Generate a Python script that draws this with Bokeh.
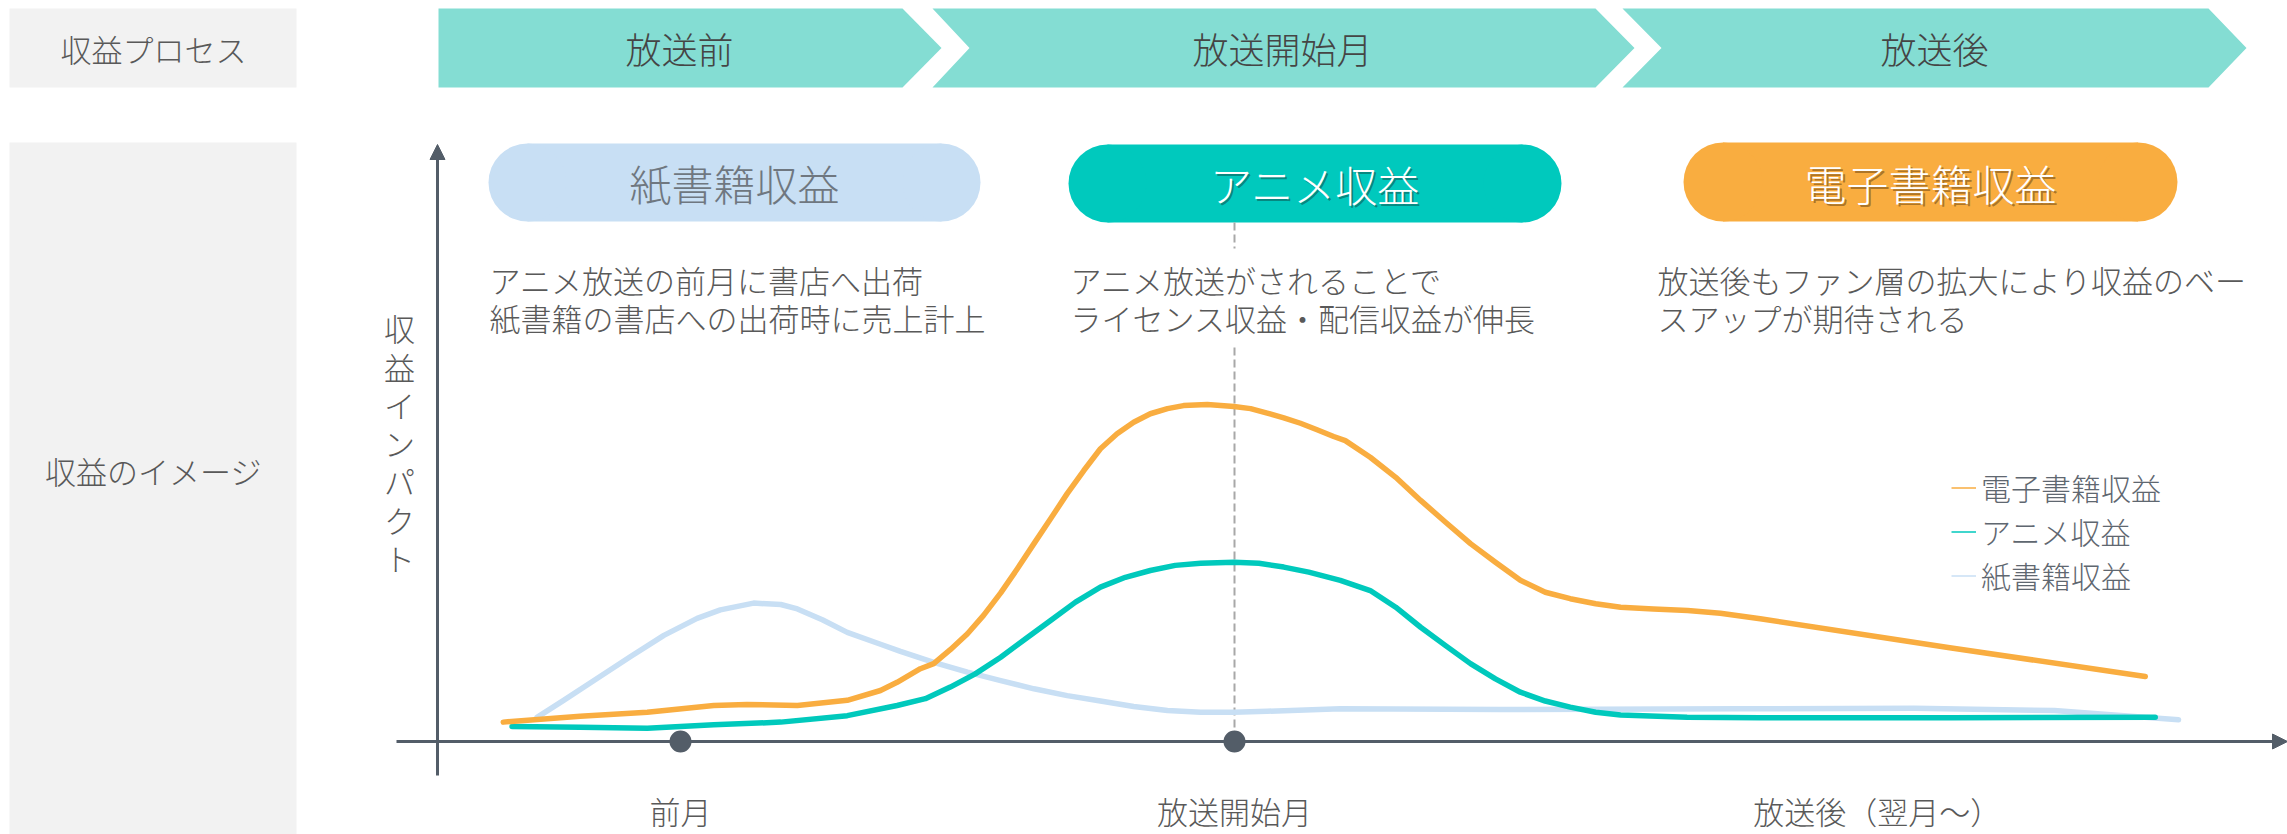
from bokeh.plotting import figure
from bokeh.models import Range1d, Arrow, NormalHead, Legend, LegendItem
from bokeh.core.properties import value
from bokeh.embed import file_html
from bokeh.resources import INLINE

# ---------------- data ----------------
series_names = ["電子書籍収益", "アニメ収益", "紙書籍収益"]

ebook_x = [-0.320, -0.181, -0.060, 0.060, 0.120, 0.211, 0.301, 0.361, 0.391, 0.433, 0.457, 0.487,
           0.518, 0.547, 0.578, 0.608, 0.638, 0.668, 0.698, 0.728, 0.758, 0.788, 0.818, 0.848,
           0.879, 0.908, 0.951, 0.999, 1.029, 1.059, 1.089, 1.119, 1.149, 1.179, 1.200, 1.245,
           1.291, 1.336, 1.381, 1.426, 1.471, 1.516, 1.561, 1.606, 1.652, 1.697, 1.756, 1.818,
           1.877, 1.949, 2.291, 2.644]
ebook_y = [0.57, 0.74, 0.86, 1.06, 1.09, 1.06, 1.21, 1.50, 1.74, 2.14, 2.29, 2.70,
           3.17, 3.71, 4.37, 5.08, 5.82, 6.55, 7.29, 7.97, 8.61, 9.05, 9.39, 9.64,
           9.79, 9.88, 9.91, 9.85, 9.79, 9.66, 9.52, 9.36, 9.17, 8.97, 8.85, 8.36,
           7.77, 7.09, 6.45, 5.82, 5.27, 4.74, 4.39, 4.20, 4.05, 3.95, 3.90, 3.85,
           3.77, 3.61, 2.76, 1.91]

anime_x = [-0.304, -0.181, -0.060, 0.060, 0.181, 0.301, 0.391, 0.442, 0.487, 0.532, 0.578, 0.623,
           0.668, 0.713, 0.758, 0.803, 0.848, 0.893, 0.939, 0.999, 1.044, 1.089, 1.134, 1.191,
           1.245, 1.291, 1.336, 1.381, 1.426, 1.471, 1.516, 1.561, 1.606, 1.652, 1.697, 1.817,
           1.949, 2.292, 2.662]
anime_y = [0.44, 0.42, 0.39, 0.49, 0.57, 0.76, 1.06, 1.26, 1.60, 1.99, 2.48, 3.02,
           3.56, 4.10, 4.54, 4.83, 5.03, 5.18, 5.24, 5.27, 5.24, 5.13, 4.98, 4.74,
           4.44, 3.95, 3.36, 2.82, 2.29, 1.84, 1.45, 1.19, 1.01, 0.86, 0.78, 0.71,
           0.70, 0.70, 0.71]

paper_x = [-0.259, -0.211, -0.150, -0.090, -0.030, 0.030, 0.072, 0.132, 0.181, 0.211, 0.256, 0.301,
           0.361, 0.397, 0.457, 0.518, 0.578, 0.638, 0.698, 0.758, 0.818, 0.879, 0.939, 0.999,
           1.059, 1.191, 1.480, 1.913, 2.227, 2.480, 2.606, 2.704]
paper_y = [0.71, 1.21, 1.86, 2.50, 3.12, 3.62, 3.87, 4.07, 4.03, 3.90, 3.58, 3.21,
           2.86, 2.65, 2.33, 2.04, 1.79, 1.55, 1.35, 1.19, 1.03, 0.91, 0.86, 0.86,
           0.89, 0.96, 0.94, 0.96, 0.98, 0.91, 0.76, 0.64]

milestone_x = [0, 1]
milestone_y = [0, 0]
tick_x = [0, 1, 2.16]
tick_labels = ["前月", "放送開始月", "放送後（翌月〜）"]

process_labels = ["放送前", "放送開始月", "放送後"]
pill_labels = ["紙書籍収益", "アニメ収益", "電子書籍収益"]
notes = [
    ["アニメ放送の前月に書店へ出荷", "紙書籍の書店への出荷時に売上計上"],
    ["アニメ放送がされることで", "ライセンス収益・配信収益が伸長"],
    ["放送後もファン層の拡大により収益のベー", "スアップが期待される"],
]
row_labels = ["収益プロセス", "収益のイメージ"]
y_title = "収益インパクト"

# ---------------- styles ----------------
W, H = 2287, 834
FONT_NAME = "Noto Sans CJK JP Light, Noto Sans CJK JP"
FONT = value(FONT_NAME)
C_ORANGE = "#f9ad40"
C_TEAL = "#00c9bc"
C_BLUE = "#c8dff4"
C_AXIS = "#535d68"
C_TEXT = "#595959"
C_CHEV = "#84ddd3"
C_GRAY = "#f2f2f2"

# px->data mapping: 前月 at x=680px, 放送開始月 at 1234px; y=0 at 741px, 34px per unit
X0PX, XUNIT = 680.0, 554.0
Y0PX, YUNIT = 741.0, 34.0

p = figure(width=W, height=H, output_backend="svg", toolbar_location=None,
           x_range=Range1d(-X0PX / XUNIT, (W - X0PX) / XUNIT),
           y_range=Range1d(-(H - Y0PX) / YUNIT, Y0PX / YUNIT),
           x_axis_location=None, y_axis_location=None, min_border=0)
p.grid.visible = False
p.outline_line_color = None
p.background_fill_color = "white"
p.extra_x_ranges = {"px": Range1d(0, W)}
p.extra_y_ranges = {"px": Range1d(H, 0)}
PX = dict(x_range_name="px", y_range_name="px")

# gray row-label boxes
p.quad(left=[9, 9], right=[296, 296], top=[8, 142], bottom=[87, 834],
       fill_color=C_GRAY, line_color=None, **PX)
p.text(x=[153, 153], y=[47.5, 470], text=row_labels, text_font=FONT, text_font_size="31px",
       text_color=C_TEXT, text_align="center", text_baseline="middle", **PX)

# process chevrons
chev_xs = [[438, 902, 941, 902, 438],
           [932, 1595, 1634, 1595, 932, 969],
           [1622, 2208, 2246, 2208, 1622, 1661]]
chev_ys = [[8, 8, 47.5, 87, 87],
           [8, 8, 47.5, 87, 87, 47.5],
           [8, 8, 47.5, 87, 87, 47.5]]
p.patches(xs=chev_xs, ys=chev_ys, fill_color=C_CHEV, line_color=None, **PX)
p.text(x=[679, 1282, 1934], y=[47.5] * 3, text=process_labels, text_font=FONT,
       text_font_size="36px", text_color="#454545", text_align="center",
       text_baseline="middle", **PX)

# pills
pill_left = [488, 1068, 1683]
pill_right = [980, 1561, 2177]
pill_top = [143, 144, 142]
pill_bot = [221, 222, 221]
pill_fill = [C_BLUE, "#00c9bd", C_ORANGE]
for l, r, t, b, c in zip(pill_left, pill_right, pill_top, pill_bot, pill_fill):
    rad = (b - t) / 2.0
    p.quad(left=[l + rad], right=[r - rad], top=[t], bottom=[b], fill_color=c,
           line_color=None, **PX)
    p.scatter(x=[l + rad, r - rad], y=[t + rad, t + rad], size=(b - t), marker="circle",
              fill_color=c, line_color=None, **PX)
pill_cx = [(l + r) / 2 for l, r in zip(pill_left, pill_right)]
pill_cy = [(t + b) / 2 for t, b in zip(pill_top, pill_bot)]
# shadows for the white labels
p.text(x=pill_cx[1:], y=pill_cy[1:], text=pill_labels[1:], text_font=FONT,
       text_font_size="42px", text_color=["#0d4f4b", "#6a4512"], text_alpha=0.55,
       x_offset=2, y_offset=2, text_align="center", text_baseline="middle", **PX)
p.text(x=pill_cx, y=pill_cy, text=pill_labels, text_font=FONT, text_font_size="42px",
       text_color=["#6f7780", "white", "white"], text_align="center",
       text_baseline="middle", **PX)

# notes
note_x = [489, 1070, 1657]
for nx, lines in zip(note_x, notes):
    p.text(x=[nx, nx], y=[279, 317], text=lines, text_font=FONT, text_font_size="31px",
           text_color=C_TEXT, text_align="left", text_baseline="middle", **PX)

# vertical y title
p.text(x=[399], y=[442], text=["\n".join(y_title)], text_font=FONT, text_font_size="31px",
       text_color=C_TEXT, text_align="center", text_baseline="middle",
       text_line_height=0.85, **PX)

# dashed guide at broadcast month
p.segment(x0=[1, 1], x1=[1, 1], y0=[222, 347], y1=[248, 741], x_range_name="default",
          y_range_name="px", line_color="#a8a8a8", line_width=2, line_dash="8 4")

# axes with arrow heads
p.add_layout(Arrow(end=NormalHead(size=15, fill_color=C_AXIS, line_color=C_AXIS),
                   x_start=396, x_end=W, y_start=0, y_end=0, x_range_name="px",
                   line_color=C_AXIS, line_width=3))
p.add_layout(Arrow(end=NormalHead(size=15, fill_color=C_AXIS, line_color=C_AXIS),
                   x_start=437, x_end=437, y_start=775, y_end=144, x_range_name="px",
                   y_range_name="px", line_color=C_AXIS, line_width=3))

# curves
r_paper = p.line(paper_x, paper_y, line_color=C_BLUE, line_width=5.5, line_cap="round",
                 line_join="round")
r_anime = p.line(anime_x, anime_y, line_color=C_TEAL, line_width=5.5, line_cap="round",
                 line_join="round")
r_ebook = p.line(ebook_x, ebook_y, line_color=C_ORANGE, line_width=5.5, line_cap="round",
                 line_join="round")

# milestones
p.scatter(milestone_x, milestone_y, size=22, marker="circle", fill_color=C_AXIS,
          line_color=None)

# tick labels
p.text(x=tick_x, y=[810] * 3, text=tick_labels, y_range_name="px", text_font=FONT,
       text_font_size="31px", text_color=C_TEXT, text_align="center",
       text_baseline="middle")

# legend proxies (thin sample lines, nothing drawn in the plot)
nan = float("nan")
lg_e = p.line([nan], [nan], line_color=C_ORANGE, line_width=1.5)
lg_a = p.line([nan], [nan], line_color=C_TEAL, line_width=1.5)
lg_p = p.line([nan], [nan], line_color=C_BLUE, line_width=1.5)
legend = Legend(items=[LegendItem(label=series_names[0], renderers=[lg_e]),
                       LegendItem(label=series_names[1], renderers=[lg_a]),
                       LegendItem(label=series_names[2], renderers=[lg_p])],
                location=(1951, H - 597), padding=0, margin=0, spacing=0,
                glyph_width=25, glyph_height=39, label_height=39, label_standoff=5,
                label_text_font=FONT_NAME, label_text_font_size="30px",
                label_text_line_height=1.0,
                label_text_color="#5f6770", background_fill_alpha=0,
                border_line_alpha=0)
p.add_layout(legend)

open("out.html", "w").write(file_html(p, INLINE))
